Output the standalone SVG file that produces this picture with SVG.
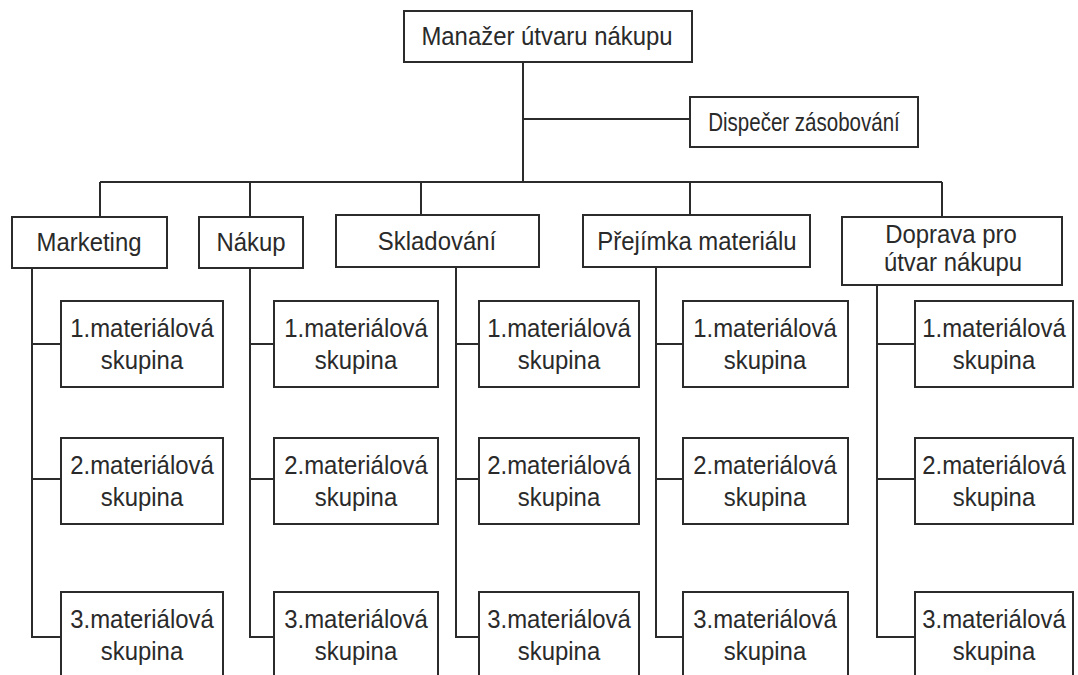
<svg xmlns="http://www.w3.org/2000/svg" width="1078" height="675" viewBox="0 0 1078 675">
  <style>
    .box { fill: #fff; stroke: #2b2b2b; stroke-width: 2; }
    .wire { fill: none; stroke: #2b2b2b; stroke-width: 2; }
    text { font-family: "Liberation Sans", Arial, sans-serif; font-size: 26px; fill: #2a2a2a; text-anchor: middle; }
  </style>
  <rect width="1078" height="675" fill="#fff"/>

  <!-- connectors -->
  <g id="connectors" class="wire">
    <!-- trunk from the manager down to the department bus -->
    <path d="M523 62 V182"/>
    <path d="M523 119 H690"/>
    <path d="M100 182 H942"/>
    <path d="M100 182 V217"/>
    <path d="M250 182 V217"/>
    <path d="M421 182 V215"/>
    <path d="M690 182 V215"/>
    <path d="M942 182 V217"/>
    <!-- department columns to their material groups -->
    <path d="M32 268 V637 H61 M32 344 H61 M32 479 H61"/>
    <path d="M250 268 V637 H274 M250 344 H274 M250 479 H274"/>
    <path d="M456 267 V637 H479 M456 344 H479 M456 479 H479"/>
    <path d="M656 267 V637 H683 M656 344 H683 M656 479 H683"/>
    <path d="M877 285 V637 H915 M877 344 H915 M877 479 H915"/>
  </g>

  <!-- labels use a slightly condensed sans: translate to the centre, squeeze horizontally -->
  <g id="manazer">
    <rect class="box" x="404" y="11" width="288" height="51"/>
    <text transform="translate(547 45) scale(0.92 1)">Manažer útvaru nákupu</text>
  </g>
  <g id="dispecer">
    <rect class="box" x="690" y="97" width="228" height="50"/>
    <text transform="translate(804 131) scale(0.79 1)">Dispečer zásobování</text>
  </g>

  <g id="marketing">
    <rect class="box" x="12" y="217" width="155" height="51"/>
    <text transform="translate(89 251) scale(0.92 1)">Marketing</text>
  </g>
  <g id="nakup">
    <rect class="box" x="199" y="217" width="104" height="51"/>
    <text transform="translate(251 251) scale(0.92 1)">Nákup</text>
  </g>
  <g id="skladovani">
    <rect class="box" x="336" y="215" width="203" height="52"/>
    <text transform="translate(437 250) scale(0.92 1)">Skladování</text>
  </g>
  <g id="prejimka">
    <rect class="box" x="583" y="215" width="227" height="52"/>
    <text transform="translate(697 250) scale(0.92 1)">Přejímka materiálu</text>
  </g>
  <g id="doprava">
    <rect class="box" x="842" y="217" width="220" height="68"/>
    <text transform="translate(951 243) scale(0.92 1)">Doprava pro</text>
    <text transform="translate(953 271) scale(0.92 1)">útvar nákupu</text>
  </g>

  <!-- material groups: Marketing -->
  <g id="mk1"><rect class="box" x="61" y="301" width="162" height="86"/><text transform="translate(142 337) scale(0.92 1)">1.materiálová</text><text transform="translate(142 369) scale(0.92 1)">skupina</text></g>
  <g id="mk2"><rect class="box" x="61" y="438" width="162" height="86"/><text transform="translate(142 474) scale(0.92 1)">2.materiálová</text><text transform="translate(142 506) scale(0.92 1)">skupina</text></g>
  <g id="mk3"><rect class="box" x="61" y="592" width="162" height="110"/><text transform="translate(142 628) scale(0.92 1)">3.materiálová</text><text transform="translate(142 660) scale(0.92 1)">skupina</text></g>

  <!-- material groups: Nákup -->
  <g id="nk1"><rect class="box" x="274" y="301" width="164" height="86"/><text transform="translate(356 337) scale(0.92 1)">1.materiálová</text><text transform="translate(356 369) scale(0.92 1)">skupina</text></g>
  <g id="nk2"><rect class="box" x="274" y="438" width="164" height="86"/><text transform="translate(356 474) scale(0.92 1)">2.materiálová</text><text transform="translate(356 506) scale(0.92 1)">skupina</text></g>
  <g id="nk3"><rect class="box" x="274" y="592" width="164" height="110"/><text transform="translate(356 628) scale(0.92 1)">3.materiálová</text><text transform="translate(356 660) scale(0.92 1)">skupina</text></g>

  <!-- material groups: Skladování -->
  <g id="sk1"><rect class="box" x="479" y="301" width="160" height="86"/><text transform="translate(559 337) scale(0.92 1)">1.materiálová</text><text transform="translate(559 369) scale(0.92 1)">skupina</text></g>
  <g id="sk2"><rect class="box" x="479" y="438" width="160" height="86"/><text transform="translate(559 474) scale(0.92 1)">2.materiálová</text><text transform="translate(559 506) scale(0.92 1)">skupina</text></g>
  <g id="sk3"><rect class="box" x="479" y="592" width="160" height="110"/><text transform="translate(559 628) scale(0.92 1)">3.materiálová</text><text transform="translate(559 660) scale(0.92 1)">skupina</text></g>

  <!-- material groups: Přejímka -->
  <g id="pr1"><rect class="box" x="683" y="301" width="165" height="86"/><text transform="translate(765 337) scale(0.92 1)">1.materiálová</text><text transform="translate(765 369) scale(0.92 1)">skupina</text></g>
  <g id="pr2"><rect class="box" x="683" y="438" width="165" height="86"/><text transform="translate(765 474) scale(0.92 1)">2.materiálová</text><text transform="translate(765 506) scale(0.92 1)">skupina</text></g>
  <g id="pr3"><rect class="box" x="683" y="592" width="165" height="110"/><text transform="translate(765 628) scale(0.92 1)">3.materiálová</text><text transform="translate(765 660) scale(0.92 1)">skupina</text></g>

  <!-- material groups: Doprava -->
  <g id="dp1"><rect class="box" x="915" y="301" width="158" height="86"/><text transform="translate(994 337) scale(0.92 1)">1.materiálová</text><text transform="translate(994 369) scale(0.92 1)">skupina</text></g>
  <g id="dp2"><rect class="box" x="915" y="438" width="158" height="86"/><text transform="translate(994 474) scale(0.92 1)">2.materiálová</text><text transform="translate(994 506) scale(0.92 1)">skupina</text></g>
  <g id="dp3"><rect class="box" x="915" y="592" width="158" height="110"/><text transform="translate(994 628) scale(0.92 1)">3.materiálová</text><text transform="translate(994 660) scale(0.92 1)">skupina</text></g>
</svg>
